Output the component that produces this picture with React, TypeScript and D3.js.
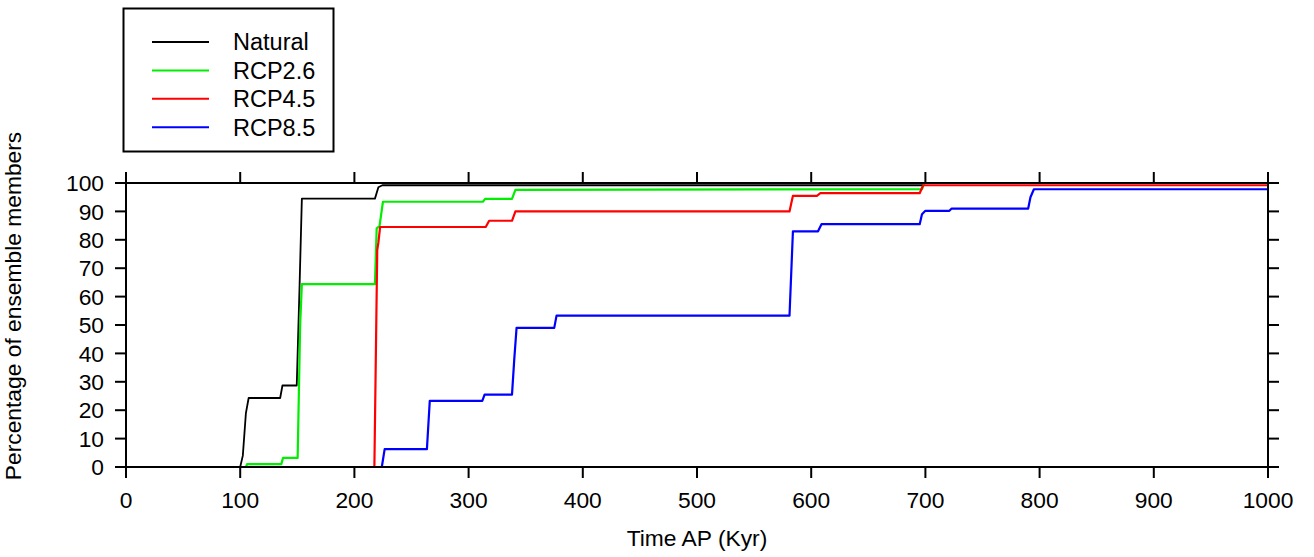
import React, { useEffect, useRef } from "react";
import * as d3 from "d3";

const xTicks = [0, 100, 200, 300, 400, 500, 600, 700, 800, 900, 1000];
const yTicks = [0, 10, 20, 30, 40, 50, 60, 70, 80, 90, 100];

const naturalT = [0, 100, 102.3, 105, 107.4, 135, 137, 149.5, 152, 154, 218, 221, 224.5, 697, 699, 1000];
const naturalV = [0, 0, 4, 19, 24.3, 24.3, 28.7, 28.7, 64, 94.5, 94.5, 98.5, 99.2, 99.2, 100, 100];

const rcp26T = [0, 105, 106, 136, 137.5, 150.3, 152.5, 154, 218, 219.5, 222, 225, 312.5, 314.5, 338, 341, 697, 699, 1000];
const rcp26V = [0, 0, 1, 1, 3.2, 3.2, 50, 64.4, 64.4, 84, 84.8, 93.4, 93.4, 94.4, 94.4, 97.6, 97.8, 100, 100];

const rcp45T = [0, 217.5, 220, 221, 222.5, 315, 318, 338, 341, 581, 584, 605, 608, 695, 698, 1000];
const rcp45V = [0, 0, 76.4, 79, 84.5, 84.5, 86.7, 86.7, 90, 90, 95.5, 95.5, 96.4, 96.4, 99.2, 99.2];

const rcp85T = [0, 224, 226.5, 263.5, 266, 312, 314, 338, 340, 342, 375, 377, 581, 584, 606, 609, 695, 697, 700, 721, 723, 790, 792, 795, 1000];
const rcp85V = [0, 0, 6.3, 6.3, 23.3, 23.3, 25.5, 25.5, 38, 49, 49, 53.3, 53.3, 83, 83, 85.5, 85.5, 89, 90.2, 90.2, 91, 91, 95, 97.8, 97.8];

const seriesNames = ["Natural", "RCP2.6", "RCP4.5", "RCP8.5"];
const seriesColors = ["#000000", "#00ee00", "#ff0000", "#0000ff"];

export default function App() {
  const ref = useRef<SVGSVGElement>(null);

  useEffect(() => {
    const svg = d3.select(ref.current);
    svg.selectAll("*").remove();
    const W = 1314, H = 557;
    const left = 126, right = 1268, top = 183, bottom = 467;
    const x = d3.scaleLinear().domain([0, 1000]).range([left, right]);
    const y = d3.scaleLinear().domain([0, 100]).range([bottom, top]);
    const font = "'Liberation Sans', Arial, Helvetica, sans-serif";
    const fs = 22.8;

    svg.append("rect").attr("width", W).attr("height", H).attr("fill", "#fff");

    const data = [
      { t: naturalT, v: naturalV },
      { t: rcp26T, v: rcp26V },
      { t: rcp45T, v: rcp45V },
      { t: rcp85T, v: rcp85V },
    ];
    const line = d3.line<[number, number]>().x((d) => x(d[0])).y((d) => y(d[1]));
    data.forEach((s, i) => {
      const pts: [number, number][] = s.t.map((t, k) => [t, s.v[k]]);
      svg.append("path")
        .attr("d", line(pts) as string)
        .attr("fill", "none")
        .attr("stroke", seriesColors[i])
        .attr("stroke-width", i === 0 ? 1.8 : 2.2)
        .attr("stroke-linejoin", "round");
    });

    // frame
    svg.append("rect")
      .attr("x", left).attr("y", top)
      .attr("width", right - left).attr("height", bottom - top)
      .attr("fill", "none").attr("stroke", "#000").attr("stroke-width", 2);

    const tl = 11;
    xTicks.forEach((t) => {
      svg.append("line").attr("x1", x(t)).attr("x2", x(t)).attr("y1", bottom).attr("y2", bottom + tl).attr("stroke", "#000").attr("stroke-width", 2);
      svg.append("line").attr("x1", x(t)).attr("x2", x(t)).attr("y1", top).attr("y2", top - tl).attr("stroke", "#000").attr("stroke-width", 2);
      svg.append("text").attr("x", x(t)).attr("y", 508).attr("text-anchor", "middle")
        .attr("font-family", font).attr("font-size", fs).text(String(t));
    });
    yTicks.forEach((t) => {
      svg.append("line").attr("x1", left).attr("x2", left - tl).attr("y1", y(t)).attr("y2", y(t)).attr("stroke", "#000").attr("stroke-width", 2);
      svg.append("line").attr("x1", right).attr("x2", right + tl).attr("y1", y(t)).attr("y2", y(t)).attr("stroke", "#000").attr("stroke-width", 2);
      svg.append("text").attr("x", 104).attr("y", y(t)).attr("dy", "0.36em").attr("text-anchor", "end")
        .attr("font-family", font).attr("font-size", fs).text(String(t));
    });

    svg.append("text").attr("x", (left + right) / 2).attr("y", 546).attr("text-anchor", "middle")
      .attr("font-family", font).attr("font-size", fs).text("Time AP (Kyr)");
    svg.append("text")
      .attr("transform", `translate(21,306) rotate(-90)`)
      .attr("text-anchor", "middle")
      .attr("font-family", font).attr("font-size", fs).text("Percentage of ensemble members");

    // legend
    svg.append("rect").attr("x", 123.5).attr("y", 8.5).attr("width", 210).attr("height", 143)
      .attr("fill", "#fff").attr("stroke", "#000").attr("stroke-width", 2);
    seriesNames.forEach((n, i) => {
      const ly = 42 + i * 28.4;
      svg.append("line").attr("x1", 152).attr("x2", 209).attr("y1", ly).attr("y2", ly)
        .attr("stroke", seriesColors[i]).attr("stroke-width", 2);
      svg.append("text").attr("x", 233).attr("y", ly).attr("dy", "0.36em")
        .attr("font-family", font).attr("font-size", 23.5).text(n);
    });
  }, []);

  return (
    <svg ref={ref} width={1314} height={557} style={{ position: "absolute", left: 0, top: 0 }} />
  );
}
